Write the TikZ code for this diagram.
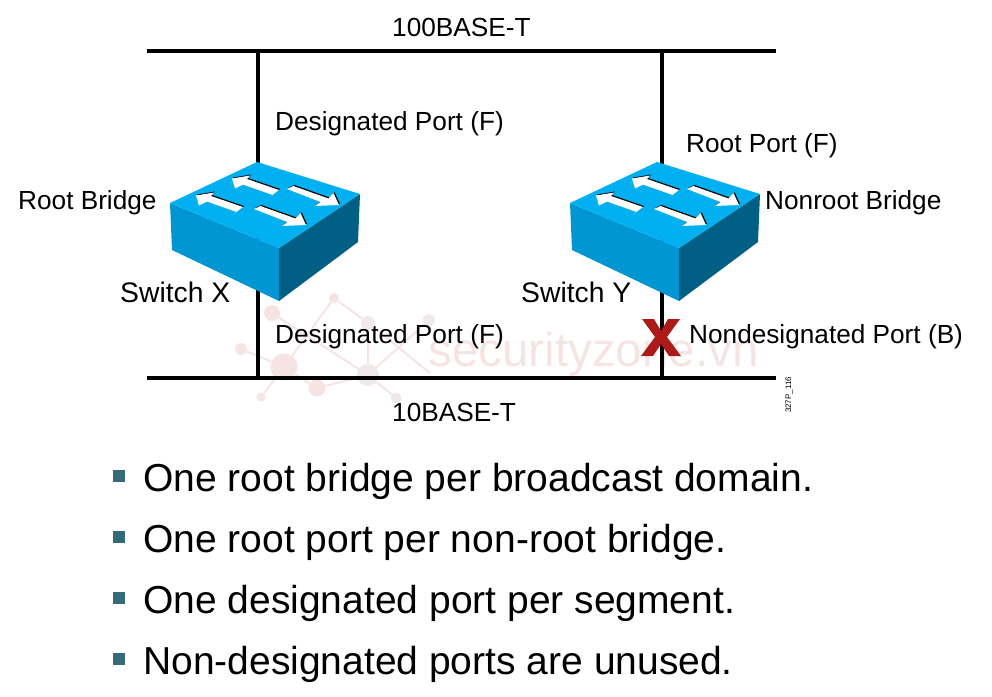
\documentclass[tikz,border=0pt]{standalone}
\usepackage{fontspec}
\setmainfont{Liberation Sans}
\usetikzlibrary{positioning}
\definecolor{switchtop}{HTML}{00B0F0}
\definecolor{switchleft}{HTML}{0095D3}
\definecolor{switchright}{HTML}{005F85}
\definecolor{bulletblue}{HTML}{336B7B}
\definecolor{xred}{HTML}{AE1A17}
\definecolor{markpink}{HTML}{F6E4E4}
\definecolor{markgrey}{HTML}{EFE9E9}
% one switch, drawn with its left corner near x=170
\newcommand{\switchicon}[1]{
  \begin{scope}[xshift=#1pt]
    \fill [switchleft] (170,203) -- (279,248) -- (279,301) -- (172,250) -- cycle;
    \fill [switchright] (279,248) -- (360,194) -- (358,242) -- (279,301) -- cycle;
    \fill [switchtop] (257,162) -- (360,194) -- (279,248) -- (170,203) -- cycle;
    \foreach \dx/\dy in {0/0,-36/17} {
      \fill [black, shift={(\dx+1,\dy-1)}] (232,178.5) -- (250,175.5) -- (247,179) -- (279,190) -- (272.5,195) -- (243,184.5) -- (235,188.5) -- cycle;
      \fill [white, shift={(\dx,\dy)}] (232,178.5) -- (250,175.5) -- (247,179) -- (279,190) -- (272.5,195) -- (243,184.5) -- (235,188.5) -- cycle;
    }
    \foreach \dx/\dy in {0/0,-33/20} {
      \fill [black, shift={(\dx+1,\dy-1)}] (287,189) -- (293.5,186) -- (328.5,198.5) -- (333.5,193) -- (339,205) -- (315,206) -- (320.5,202) -- cycle;
      \fill [white, shift={(\dx,\dy)}] (287,189) -- (293.5,186) -- (328.5,198.5) -- (333.5,193) -- (339,205) -- (315,206) -- (320.5,202) -- cycle;
    }
  \end{scope}
}
\begin{document}
\begin{tikzpicture}[x=1pt, y=-1pt]
  \tikzstyle{bus} = [line width=4.5pt]
  \tikzstyle{label} = [inner sep=0pt, anchor=base west, font=\fontsize{26.2}{30}\selectfont]
  \tikzstyle{swlabel} = [inner sep=0pt, anchor=base west, font=\fontsize{28.3}{32}\selectfont]
  \tikzstyle{item} = [inner sep=0pt, anchor=base west, font=\fontsize{39}{46}\selectfont]
  \tikzstyle{bullet} = [fill=bulletblue, inner sep=0pt, minimum size=12pt]
  \tikzstyle{knot} = [circle, fill=markpink, inner sep=0pt]
  \tikzstyle{greyknot} = [circle, fill=markgrey, inner sep=0pt]
  \tikzstyle{markline} = [markpink, line width=2pt]
  \useasboundingbox (0,0) rectangle (992,696);
  % watermark
  \node (k1) [knot, minimum size=27pt] at (284,367) {};
  \node (k2) [greyknot, minimum size=22pt] at (368,375) {};
  \node (k3) [knot, minimum size=17pt] at (317,388) {};
  \node (k4) [knot, minimum size=16pt] at (272,313) {};
  \node (k5) [knot, minimum size=10pt] at (334,298) {};
  \node (k6) [greyknot, minimum size=14pt] at (368,323) {};
  \node (k7) [greyknot, minimum size=12pt] at (429,320) {};
  \node (k8) [knot, minimum size=12pt] at (241,349) {};
  \node (k9) [knot, minimum size=9pt] at (261,397) {};
  \node (k10) [greyknot, minimum size=11pt] at (396,398) {};
  \coordinate (k11) at (430,373);
  \draw [markline] (k4) -- (k2);
  \draw [markline] (k1) -- (k8);
  \draw [markline] (k1) -- (k9);
  \draw [markline] (k1) -- (k3);
  \draw [markline] (k3) -- (k2);
  \draw [markline] (k1) -- (k5);
  \draw [markline] (k5) -- (k6);
  \draw [markline] (k6) -- (k2);
  \draw [markline] (k7) -- (k2);
  \draw [markline] (k2) -- (k10);
  \draw [markline] (k6) -- (k11);
  \node (mark) [inner sep=0pt, anchor=base west, text=markpink, font=\fontsize{47.6}{50}\selectfont] at (428,366) {securityzone.vn};
  % segments
  \coordinate (topl) at (147,51);
  \coordinate (topr) at (776,51);
  \coordinate (botl) at (147,378);
  \coordinate (botr) at (776,378);
  \coordinate (xtop) at (258,51);
  \coordinate (xbot) at (258,378);
  \coordinate (ytop) at (662,51);
  \coordinate (ybot) at (662,378);
  \draw [bus] (topl) -- (topr);
  \draw [bus] (botl) -- (botr);
  \draw [bus] (xtop) -- (xbot);
  \draw [bus] (ytop) -- (ybot);
  \switchicon{0}
  \switchicon{400}
  % blocked port
  \fill [xred] (642,319) -- (654,319) -- (661,331) -- (668,319) -- (680,319) -- (667,337) -- (681,356) -- (669,356) -- (661,344) -- (653,356) -- (641,356) -- (655,337) -- cycle;
  % labels
  \node (fast) [label] at (392,36) {100BASE-T};
  \node (slow) [label] at (392,421) {10BASE-T};
  \node (dpa) [label] at (275,130) {Designated Port (F)};
  \node (dpb) [label] at (275,343) {Designated Port (F)};
  \node (rp) [label] at (686,152) {Root Port (F)};
  \node (ndp) [label] at (689,343) {Nondesignated Port (B)};
  \node (rb) [label] at (18,209) {Root Bridge};
  \node (nrb) [label] at (765,209) {Nonroot Bridge};
  \node (swx) [swlabel] at (120,302) {Switch X};
  \node (swy) [swlabel] at (521,302) {Switch Y};
  \node (code) [inner sep=0pt, rotate=90, font=\fontsize{8}{9}\selectfont] at (789,395) {327P\_116};
  % list
  \node (b1) [bullet] at (119,476) {};
  \node (b2) [bullet] at (119,537) {};
  \node (b3) [bullet] at (119,598) {};
  \node (b4) [bullet] at (119,659) {};
  \node (t1) [item] at (143,491) {One root bridge per broadcast domain.};
  \node (t2) [item] at (143,552) {One root port per non-root bridge.};
  \node (t3) [item] at (143,613) {One designated port per segment.};
  \node (t4) [item] at (143,674) {Non-designated ports are unused.};
\end{tikzpicture}
\end{document}
